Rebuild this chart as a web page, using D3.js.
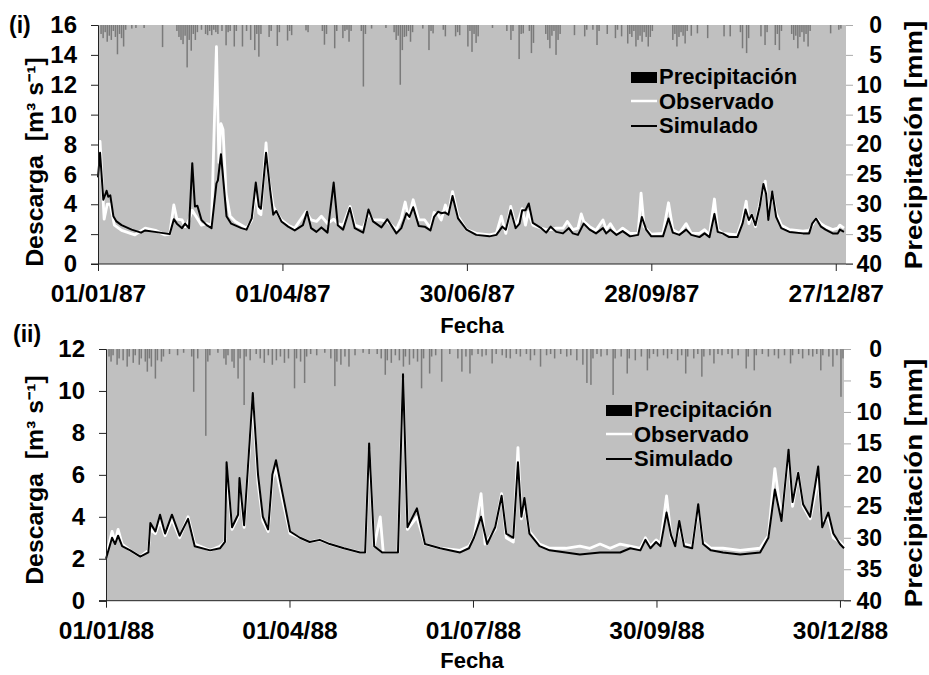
<!DOCTYPE html>
<html><head><meta charset="utf-8">
<script src="https://cdn.jsdelivr.net/npm/d3@7"></script>
<style>
body{margin:0;background:#fff}
svg text{font-family:"Liberation Sans",Arial,sans-serif;font-weight:bold;fill:#000;white-space:pre}
</style>
</head><body>
<svg id="c" width="929" height="675"></svg>
<script>
// ---------- DATA (day offset from 1 Jan, value) ----------
const sim87=[[0,5.8],[1,7.45],[2.6,4.3],[4.2,4.9],[5,4.5],[6,4.6],[7.5,3.2],[9,2.85],[11.5,2.6],[16.4,2.3],[21,2.1],[23,2.25],[27.8,2.15],[35,2.0],[37,3.0],[38.5,2.7],[41,2.4],[42.5,2.7],[44.4,2.4],[46,6.75],[47.3,3.85],[48.5,3.9],[50.5,2.95],[53,2.6],[55.4,2.4],[57.8,5.4],[58.5,5.6],[60,7.35],[61,5.85],[62.7,3.2],[65,2.7],[70,2.4],[72.5,2.3],[75,3.05],[77,5.45],[78.5,3.85],[79.5,3.7],[82,7.45],[84,4.95],[85.5,3.3],[87,3.55],[89.5,2.85],[92.8,2.5],[96,2.25],[100,2.6],[102,3.5],[104,2.4],[106.6,2.15],[109,2.45],[112,2.1],[115,5.45],[117,2.6],[119.6,2.3],[122.9,3.75],[125.3,2.4],[129.4,2.1],[132,3.65],[134.2,2.85],[138.3,2.45],[141.2,3.0],[145.6,2.05],[148,2.4],[150.5,3.4],[152,3.15],[153.8,3.8],[156.5,2.55],[159.4,2.5],[162.2,2.25],[164,3.15],[166,3.5],[167.5,3.4],[169.2,3.45],[171,3.3],[173,4.55],[175.7,3.05],[179.8,2.3],[184.6,1.95],[191,1.85],[194.4,1.95],[197.3,2.5],[199,2.3],[201.4,3.6],[203.8,2.4],[205.7,2.7],[207,3.6],[208.6,3.6],[210.2,4.05],[212.2,2.75],[216.3,2.4],[218.7,2.1],[220.9,2.5],[223.6,2.15],[226.9,2.05],[229.7,2.4],[231.7,2.05],[234.2,1.95],[237,2.7],[239.9,2.3],[243,2.05],[246.4,2.4],[248,2.05],[250,2.3],[253,1.95],[256,2.2],[259.6,1.85],[263.6,1.95],[265.4,3.15],[267.5,2.3],[270,1.85],[275.7,1.85],[278.4,3.05],[280.5,2.1],[283.7,1.95],[287,2.3],[289.5,1.95],[293.5,1.8],[296,2.05],[298.4,1.8],[300.8,3.35],[302.4,2.15],[304.8,2.05],[308,1.8],[312,1.8],[314.5,2.7],[316,3.65],[317.6,2.95],[319,3.3],[320.8,2.6],[322.9,3.85],[324.7,5.35],[326,4.7],[327.1,2.95],[329,4.85],[330.9,3.15],[333.4,2.4],[337.4,2.15],[344,2.05],[347,2.05],[348.5,2.7],[350.4,3.05],[352.8,2.5],[355,2.3],[358.5,2.05],[361,2.05],[362,2.3],[364,2.15]];
const obs87=[[0,5.8],[1,8.2],[3,3.0],[4.5,4.0],[6,4.0],[8,2.6],[11.5,2.25],[18,1.95],[23,2.4],[28,2.25],[32.7,1.95],[35,2.0],[37,3.95],[38.5,3.0],[41,2.95],[42.5,2.5],[44,2.8],[46,3.6],[47.3,3.3],[50.5,2.6],[53,2.7],[55.4,2.6],[57.8,14.55],[59,6.8],[60,9.4],[61,9.0],[62.5,4.7],[64.5,3.2],[67,2.85],[72.5,2.4],[75,2.95],[77,4.85],[78.5,3.4],[79.5,3.3],[82,8.1],[83,6.0],[85.5,3.85],[87,3.5],[89.5,2.95],[92.8,2.6],[96,2.4],[101.5,3.5],[104,2.95],[106.6,2.85],[109,3.2],[112,2.7],[115,3.0],[117,2.7],[119.6,2.6],[123,3.85],[125.3,2.6],[129.4,2.4],[132,3.4],[134.2,2.95],[138,2.95],[141.2,2.85],[145.6,2.3],[148,3.05],[149.9,4.15],[151.5,3.05],[153.8,4.3],[156.5,2.95],[159.4,2.95],[162.2,2.4],[164,3.45],[166,3.3],[167.5,2.95],[169.5,3.95],[171,3.4],[173,4.85],[175.7,3.2],[179.8,2.3],[184.6,2.05],[191,1.95],[194.4,2.05],[196.8,3.2],[199,2.05],[201.4,3.85],[203.8,2.5],[205.7,3.15],[207,3.7],[208.6,2.6],[210,3.5],[212.2,2.6],[216.3,2.4],[218.7,2.3],[220.9,2.3],[223.6,2.4],[226.9,2.4],[229,2.85],[231.7,2.3],[234.2,2.4],[235.8,3.35],[237,2.85],[239.9,2.5],[243,2.25],[246.4,2.95],[248,2.3],[250,2.7],[253,2.05],[256,2.4],[259.6,2.05],[263.6,2.05],[265,4.75],[266.5,2.5],[270,2.0],[275.7,2.05],[278.4,4.1],[280.5,2.3],[283.7,2.05],[287,2.7],[289.5,2.05],[293.5,2.05],[296,2.3],[298.4,1.95],[300.8,4.35],[302.4,2.3],[304.8,2.05],[312,1.95],[314.5,2.95],[316.3,4.2],[317.6,2.7],[319,3.3],[320.8,2.5],[322.9,4.05],[325.6,5.55],[327.1,3.15],[329,4.75],[330.9,3.4],[333.4,2.6],[337.4,2.3],[344,2.2],[347,2.25],[350.4,3.05],[352.8,2.7],[355,2.5],[358.5,2.3],[361,2.4],[362,2.6],[364,2.4]];
const rain87=[[1,1.5],[2,2.2],[3,1.2],[4,2.8],[5,1.8],[6,2.5],[7,1.0],[8,2.0],[9,4.9],[10,1.5],[11,2.2],[12,3.6],[13,0.8],[16,0.6],[18,0.5],[22,0.5],[31,3.7],[38,1.0],[39,2.0],[40,2.5],[41,3.2],[42,1.8],[43,7.1],[44,2.5],[45,4.3],[46,1.5],[47,2.5],[48,1.2],[50,0.8],[52,1.5],[53,1.7],[54,1.0],[55,1.7],[56,0.8],[57,1.2],[58,1.5],[60,1.0],[62,3.4],[63,1.2],[64,1.0],[66,3.6],[67,1.0],[70,3.6],[72,1.0],[74,2.5],[76,4.2],[77,1.5],[78,5.3],[79,1.5],[83,2.0],[84,1.0],[87,3.5],[88,1.2],[92,2.6],[93,1.0],[94,1.7],[101,0.9],[102,1.2],[109,1.0],[110,3.3],[111,1.5],[115,3.9],[116,1.0],[119,2.2],[120,1.0],[121,0.8],[122,2.8],[123,1.0],[128,1.0],[129,10.3],[130,1.5],[133,0.6],[140,0.5],[144,1.2],[145,2.5],[146,1.8],[147,10.0],[148,4.2],[149,2.0],[150,1.9],[151,1.0],[152,2.8],[153,1.2],[158,0.6],[161,4.2],[162,1.0],[163,1.4],[168,0.8],[169,1.9],[174,1.9],[175,1.2],[176,1.7],[180,3.6],[181,1.0],[182,4.5],[183,1.5],[184,3.0],[185,1.9],[192,0.5],[199,1.0],[201,2.5],[202,1.0],[205,5.7],[206,1.5],[207,1.4],[210,1.0],[211,4.7],[212,3.0],[218,1.5],[219,2.5],[220,3.9],[221,1.8],[222,1.0],[223,5.0],[224,2.5],[225,1.5],[232,1.7],[237,1.9],[238,0.8],[241,0.8],[243,3.35],[244,1.0],[248,1.5],[252,2.2],[253,0.8],[255,1.9],[258,3.1],[259,1.5],[260,2.0],[261,1.0],[262,3.6],[263,2.5],[264,1.8],[265,2.8],[266,1.2],[267,2.0],[268,3.6],[269,2.0],[270,1.0],[280,2.5],[281,1.5],[282,3.6],[283,2.0],[284,1.2],[285,1.8],[286,3.1],[287,1.0],[289,1.8],[292,1.4],[297,2.2],[305,1.9],[308,1.9],[313,1.2],[314,3.9],[316,4.7],[317,2.2],[323,1.9],[325,3.35],[326,1.2],[330,3.35],[331,1.5],[332,4.2],[333,1.0],[338,1.5],[339,2.5],[340,1.8],[341,3.9],[342,2.0],[343,1.2],[344,2.8],[345,1.5],[346,3.6],[347,1.0],[357,1.4],[361,0.8],[362,0.6]];

const sim88=[[0,2.0],[3,3.0],[4.5,2.7],[6,3.1],[8,2.6],[12,2.4],[17,2.1],[21,2.3],[22,3.7],[24.5,3.3],[26.8,4.1],[29.3,3.2],[32.7,4.1],[36.5,3.1],[40.7,3.9],[44,2.6],[51.6,2.4],[56.5,2.5],[59,2.8],[59.8,6.6],[62.5,3.5],[65.5,4.1],[66.2,5.85],[68.5,3.6],[72.8,9.9],[75.4,6.0],[77.8,4.0],[80.4,3.4],[82.5,6.0],[84.3,6.7],[87.8,5.0],[91.3,3.3],[96.2,3.0],[101,2.8],[106,2.9],[111,2.7],[118,2.5],[126,2.3],[128.5,2.3],[130.5,7.5],[133,2.6],[137,2.3],[144.8,2.3],[147.3,10.8],[149.5,3.5],[154.2,4.4],[158.2,2.7],[165.7,2.5],[175.6,2.3],[180,2.5],[182.5,3.0],[186,4.0],[189,2.7],[193,3.5],[196.2,5.0],[198.5,3.2],[202,3.0],[204.3,6.6],[206,4.0],[207.5,4.9],[210,3.2],[215,2.6],[220,2.4],[228,2.3],[235,2.2],[245,2.3],[255,2.3],[260,2.5],[265,2.4],[267.5,2.9],[270,2.5],[272.8,2.8],[275,2.6],[278,4.2],[280.3,3.1],[282.3,2.6],[284.3,3.8],[286.7,2.6],[290.7,2.5],[293.7,4.6],[296.1,2.7],[300,2.4],[306,2.3],[314.5,2.2],[324.4,2.3],[328.5,3.0],[331.7,5.3],[335,3.8],[338.5,7.2],[340.5,4.7],[343.3,6.1],[345.7,4.6],[349.2,4.0],[353.2,6.4],[355.2,3.5],[358.2,4.2],[360.7,3.2],[364,2.7],[366,2.5]];
const obs88=[[0,2.1],[3,3.3],[4.5,2.8],[6,3.4],[8,2.7],[12,2.4],[17,2.1],[21,2.4],[22,3.4],[24.5,3.2],[26.8,3.8],[29.3,3.1],[32.7,3.9],[36.5,3.0],[40.7,4.0],[44,2.7],[51.6,2.4],[56.5,2.6],[59,2.8],[59.8,6.2],[62.5,3.4],[65.5,4.0],[66.2,5.5],[68.5,3.5],[72.8,9.6],[75.4,5.6],[77.8,3.8],[80.4,3.3],[82.5,5.8],[84.3,6.3],[87.8,4.7],[91.3,3.2],[96.2,3.0],[101,2.8],[106,2.9],[111,2.7],[118,2.5],[126,2.3],[128.5,2.3],[130.5,7.2],[133,2.6],[136,4.0],[137.5,2.3],[144.8,2.3],[147.3,10.6],[149.5,3.4],[154.2,4.0],[158.2,2.7],[165.7,2.5],[175.6,2.4],[180,2.6],[182.5,3.0],[186,5.1],[188,2.7],[193,3.4],[196.2,5.1],[198.5,3.0],[202,2.8],[204.3,7.3],[206,3.9],[207.5,4.6],[210,3.3],[215,2.7],[220,2.5],[228,2.5],[235,2.6],[240,2.5],[245,2.7],[250,2.5],[255,2.7],[260,2.6],[265,2.5],[267.5,3.0],[270,2.6],[272.8,2.9],[275,2.7],[278,5.0],[280.3,3.0],[282.3,2.7],[284.3,3.6],[286.7,2.7],[290.7,2.6],[293.7,4.4],[296.1,2.8],[300,2.5],[306,2.5],[314.5,2.4],[324.4,2.5],[328.5,3.1],[331.7,6.3],[335,3.9],[338.5,7.0],[340.5,4.5],[343.3,6.1],[345.7,4.5],[349.2,3.9],[353.2,5.8],[355.2,3.7],[358.2,4.0],[360.7,3.0],[364,2.8],[366,2.6]];
const rain88=[[1,1.2],[2,2.0],[3,1.0],[5,2.5],[6,1.5],[8,1.8],[10,2.8],[11,1.2],[13,2.2],[14,1.0],[16,2.5],[17,1.5],[19,2.0],[20,3.6],[21,1.5],[22,2.8],[24,4.7],[25,1.8],[27,2.0],[28,1.2],[31,0.8],[35,1.0],[38,0.6],[42,1.2],[43,6.8],[45,1.5],[49,13.8],[50,2.0],[51,1.0],[55,0.6],[58,1.5],[59,2.5],[60,1.0],[62,2.0],[63,3.0],[65,4.7],[66,1.5],[68,8.9],[69,1.2],[71,1.8],[74,0.8],[76,1.5],[78,2.2],[80,1.0],[82,2.5],[84,1.8],[86,1.2],[88,2.2],[90,1.5],[93,6.25],[94,1.5],[96,2.0],[98,5.4],[99,1.2],[101,0.8],[104,1.0],[108,0.6],[111,1.5],[113,5.9],[114,2.0],[116,2.5],[118,1.2],[120,2.8],[123,1.0],[127,0.6],[130,0.8],[134,0.8],[136,1.5],[138,4.1],[139,1.8],[141,2.2],[143,1.0],[145,1.8],[147,2.8],[148,1.2],[150,2.5],[152,1.5],[154,2.0],[156,6.25],[157,1.5],[160,3.9],[161,1.2],[163,1.0],[166,5.2],[170,0.8],[174,1.5],[176,3.6],[178,1.2],[180,3.9],[181,1.0],[184,0.8],[186,1.2],[188,1.0],[191,2.3],[193,0.8],[196,1.0],[198,1.4],[200,1.5],[203,0.8],[205,1.2],[208,0.8],[210,1.8],[212,1.0],[215,2.8],[218,1.0],[220,0.8],[222,1.5],[225,0.8],[228,1.2],[230,1.0],[233,1.8],[236,2.5],[238,5.4],[240,5.7],[241,1.5],[243,0.8],[245,1.2],[248,1.0],[251,7.3],[252,1.5],[255,1.2],[258,3.9],[259,1.5],[262,1.8],[265,1.2],[268,3.4],[269,1.5],[271,0.8],[273,1.2],[276,1.0],[278,1.5],[280,0.8],[283,1.8],[285,1.0],[287,3.9],[288,1.2],[291,1.5],[293,0.8],[295,4.4],[296,1.2],[299,1.0],[301,2.3],[303,0.8],[305,1.0],[308,0.8],[310,1.5],[313,1.0],[317,3.1],[318,1.2],[321,3.4],[322,1.0],[325,0.8],[328,1.2],[331,1.0],[333,1.5],[336,1.0],[339,2.3],[340,1.0],[343,0.8],[345,1.5],[348,1.0],[350,1.2],[352,0.8],[354,3.4],[355,1.0],[358,1.2],[360,2.8],[362,1.0],[364,7.6],[365,1.5]];

const qTicks87=[0,2,4,6,8,10,12,14,16];
const qTicks88=[0,2,4,6,8,10,12];
const pTicks=[0,5,10,15,20,25,30,35,40];
const dateTicks87=["01/01/87","01/04/87","30/06/87","28/09/87","27/12/87"];
const dateTicks88=["01/01/88","01/04/88","01/07/88","30/09/88","30/12/88"];
const legendItems=["Precipitación","Observado","Simulado"];

// ---------- DRAW ----------
const svg=d3.select("#c");
const parse=d3.utcParse("%d/%m/%y");

function panel(o){
  const g=svg.append("g");
  const x=d3.scaleUtc().domain(o.domain).range([o.left,o.right]);
  const y=d3.scaleLinear().domain([0,o.qmax]).range([o.bottom,o.top]);
  const yp=d3.scaleLinear().domain([0,40]).range([o.top,o.bottom]);
  const t0=o.domain[0].getTime();
  const dt=d=>new Date(t0+d*864e5);

  g.append("rect").attr("x",o.left).attr("y",o.top).attr("width",o.right-o.left).attr("height",o.bottom-o.top).attr("fill","#c0c0c0");

  g.selectAll("rect.bar").data(o.rain).join("rect").attr("class","bar")
    .attr("x",d=>x(dt(d[0]+0.5))-0.75).attr("width",1.5)
    .attr("y",o.top).attr("height",d=>yp(d[1])-o.top).attr("fill","#7a7a7a");

  const line=d3.line().x(d=>x(dt(d[0]))).y(d=>y(d[1]));
  g.append("path").datum(o.obs).attr("d",line).attr("fill","none").attr("stroke","#fff").attr("stroke-width",2.8).attr("stroke-linejoin","round");
  g.append("path").datum(o.sim).attr("d",line).attr("fill","none").attr("stroke","#000").attr("stroke-width",2).attr("stroke-linejoin","round");

  const ya=g.append("g").attr("transform",`translate(${o.left},0)`)
    .call(d3.axisLeft(y).tickValues(o.qTicks).tickSize(7).tickPadding(14).tickFormat(d3.format("d")));
  ya.select(".domain").attr("stroke","#222");
  ya.selectAll(".tick line").attr("stroke","#222");
  ya.selectAll("text").attr("x",-21).attr("text-anchor","end").attr("font-size",24).style("font-size","24px").attr("fill","#000");

  const pa=g.append("g").attr("transform",`translate(${o.right},0)`)
    .call(d3.axisRight(yp).tickValues(pTicks).tickSize(7).tickPadding(0));
  pa.select(".domain").remove();
  pa.selectAll(".tick line").attr("stroke","#aaa");
  pa.selectAll("text").attr("font-size",23).style("font-size","23px").attr("text-anchor","end").attr("x",o.rx);

  const xa=g.append("g").attr("transform",`translate(0,${o.bottom})`)
    .call(d3.axisBottom(x).tickValues(o.dTicks.map(parse)).tickSize(7).tickPadding(14).tickFormat((d,i)=>o.dTicks[i]));
  xa.select(".domain").remove();
  xa.selectAll(".tick line").attr("stroke","#222");
  xa.selectAll("text").attr("font-size",24.5).style("font-size","24.5px");
  g.append("line").attr("x1",o.left-7).attr("x2",o.right+7).attr("y1",o.bottom).attr("y2",o.bottom).attr("stroke","#222");

  g.append("text").attr("transform",`translate(43,${o.ltc}) rotate(-90) scale(1.08,1)`).attr("text-anchor","middle").style("font-size","23px").text("Descarga  [m³ s⁻¹]");
  g.append("text").attr("transform",`translate(922,${o.rtc}) rotate(-90) scale(1.2,1)`).attr("text-anchor","middle").style("font-size","23px").text("Precipitación [mm]");
  g.append("text").attr("x",472).attr("y",o.fy).attr("text-anchor","middle").style("font-size","22px").text("Fecha");
  g.append("text").attr("x",o.labx).attr("y",o.laby).style("font-size","23px").text(o.label);

  const L=g.append("g");
  L.append("rect").attr("x",o.lgx).attr("y",o.lgy-12).attr("width",26).attr("height",11).attr("fill","#000");
  L.append("line").attr("x1",o.lgx).attr("x2",o.lgx+26).attr("y1",o.lgy+17).attr("y2",o.lgy+17).attr("stroke","#fff").attr("stroke-width",2.5);
  L.append("line").attr("x1",o.lgx).attr("x2",o.lgx+26).attr("y1",o.lgy+42).attr("y2",o.lgy+42).attr("stroke","#000").attr("stroke-width",2);
  legendItems.forEach((t,i)=>{
    L.append("text").attr("x",o.lgx+28).attr("y",o.lgy+i*24.5).style("font-size","22px").text(t);
  });
}

panel({domain:[new Date(Date.UTC(1987,0,1)),new Date(Date.UTC(1988,0,1))],left:98,right:846,top:25,bottom:264,qmax:16,rx:36,
  qTicks:qTicks87,dTicks:dateTicks87,rain:rain87,sim:sim87,obs:obs87,ltc:162,rtc:145,fy:333,label:"(i)",labx:9,laby:33,lgx:631,lgy:84});
panel({domain:[new Date(Date.UTC(1988,0,1)),new Date(Date.UTC(1989,0,1))],left:106,right:844,top:349,bottom:600.7,qmax:12,rx:38,
  qTicks:qTicks88,dTicks:dateTicks88,rain:rain88,sim:sim88,obs:obs88,ltc:480,rtc:483,fy:668,label:"(ii)",labx:13,laby:342,lgx:606,lgy:417});
</script>
</body></html>
